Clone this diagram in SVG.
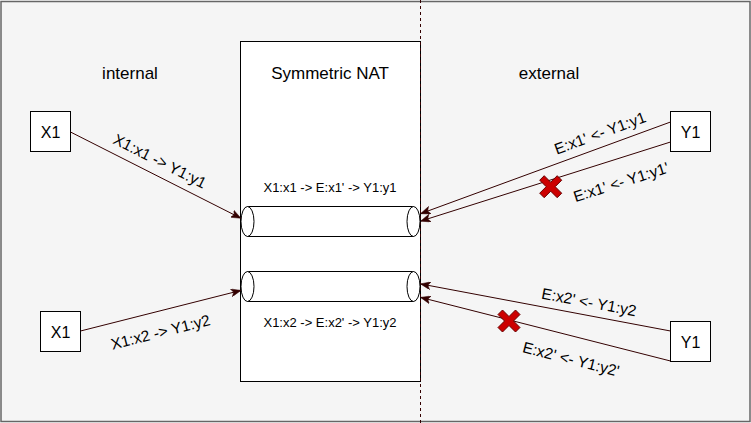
<svg xmlns="http://www.w3.org/2000/svg" width="751" height="423" viewBox="0 0 751 423">
<style>
text{font-family:"Liberation Sans",Arial,Helvetica,sans-serif;fill:#000;text-anchor:middle}
.box{fill:#fff;stroke:#000;stroke-width:1}
.cyl{fill:#fff;stroke:#000;stroke-width:1}
.edge{fill:none;stroke:#330000;stroke-width:1;marker-end:url(#arr)}
.lbl{font-size:15.5px}
.big{font-size:17px}
.nodet{font-size:16px}
.inner{font-size:13px}
.xmark{fill:#CC0000;stroke:#660000;stroke-width:1}
</style>
<defs>
<marker id="arr" markerUnits="userSpaceOnUse" markerWidth="10" markerHeight="8" refX="9.5" refY="4" orient="auto" viewBox="0 0 10 8">
<path d="M0,0 L10,4 L0,8 L2.5,4 Z" fill="#330000" stroke="#330000" stroke-width="0.5"/>
</marker>
<polygon id="xshape" points="-11,-6.5 -6.5,-11 0,-4.5 6.5,-11 11,-6.5 4.5,0 11,6.5 6.5,11 0,4.5 -6.5,11 -11,6.5 -4.5,0"/>
</defs>
<g id="background">
<rect x="1" y="1.5" width="749" height="420" fill="#f5f5f5" stroke="#666666" stroke-width="1.5"/>
<text class="big" x="130" y="79">internal</text>
<text class="big" x="549" y="79">external</text>
</g>
<g id="nat">
<rect class="box" x="240.5" y="41.5" width="180" height="340"/>
<text class="big" x="330" y="79">Symmetric NAT</text>
<text class="inner" x="330" y="191.5">X1:x1 -&gt; E:x1' -&gt; Y1:y1</text>
<text class="inner" x="330" y="327">X1:x2 -&gt; E:x2' -&gt; Y1:y2</text>
</g>
<line x1="420.5" y1="0" x2="420.5" y2="423" stroke="#330000" stroke-width="1" stroke-dasharray="3 3"/>
<g id="tunnel1">
<path class="cyl" d="M247.5,206.5 L413.5,206.5 L413.5,236.5 L247.5,236.5 Z"/>
<ellipse class="cyl" cx="247.5" cy="221.5" rx="6.5" ry="15"/>
<ellipse class="cyl" cx="413.5" cy="221.5" rx="6.5" ry="15"/>
</g>
<g id="tunnel2">
<path class="cyl" d="M247.5,271.5 L413.5,271.5 L413.5,301.5 L247.5,301.5 Z"/>
<ellipse class="cyl" cx="247.5" cy="286.5" rx="6.5" ry="15"/>
<ellipse class="cyl" cx="413.5" cy="286.5" rx="6.5" ry="15"/>
</g>
<g id="x1a">
<rect class="box" x="30.5" y="111.5" width="40" height="40"/>
<text class="nodet" x="50.5" y="137.5">X1</text>
</g>
<g id="x1b">
<rect class="box" x="40.5" y="311.5" width="40" height="40"/>
<text class="nodet" x="60.5" y="337.5">X1</text>
</g>
<g id="y1a">
<rect class="box" x="670.5" y="111.5" width="40" height="40"/>
<text class="nodet" x="690.5" y="137.5">Y1</text>
</g>
<g id="y1b">
<rect class="box" x="670.5" y="321.5" width="40" height="40"/>
<text class="nodet" x="690.5" y="347.5">Y1</text>
</g>
<g id="connectors">
<line class="edge" x1="70.5" y1="132" x2="240.5" y2="218"/>
<line class="edge" x1="80.5" y1="331" x2="240.5" y2="290.5"/>
<line class="edge" x1="670.5" y1="122" x2="421" y2="213.5"/>
<line class="edge" x1="670.5" y1="142" x2="421" y2="221"/>
<line class="edge" x1="670.5" y1="331" x2="421" y2="284"/>
<line class="edge" x1="670.5" y1="361" x2="421" y2="297.5"/>
<text class="lbl" transform="translate(160,161) rotate(26.8)" dy="0.35em">X1:x1 -&gt; Y1:y1</text>
<text class="lbl" transform="translate(160.5,332) rotate(-14.2)" dy="0.35em">X1:x2 -&gt; Y1:y2</text>
<text class="lbl" transform="translate(600,133) rotate(-20.1)" dy="0.35em">E:x1' &lt;- Y1:y1</text>
<text class="lbl" transform="translate(621,182) rotate(-17.6)" dy="0.35em">E:x1' &lt;- Y1:y1'</text>
<text class="lbl" transform="translate(589,302) rotate(10.7)" dy="0.35em">E:x2' &lt;- Y1:y2</text>
<text class="lbl" transform="translate(571,359) rotate(14.3)" dy="0.35em">E:x2' &lt;- Y1:y2'</text>
</g>
<g id="block1"><use href="#xshape" class="xmark" transform="translate(550.7,186.7)"/></g>
<g id="block2"><use href="#xshape" class="xmark" transform="translate(509,321)"/></g>
</svg>
